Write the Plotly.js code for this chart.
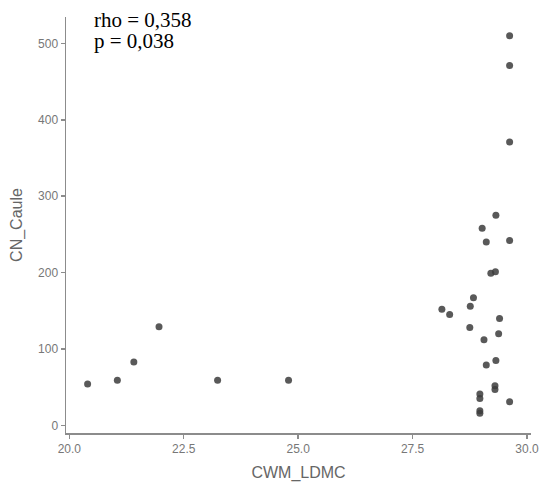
<!DOCTYPE html>
<html>
<head>
<meta charset="utf-8">
<script src="https://cdn.plot.ly/plotly-3.0.1.min.js"></script>
<style>html,body{margin:0;padding:0;background:#fff;}#chart{width:542px;height:483px;}</style>
</head>
<body>
<div id="chart"></div>
<script>
const cwmLDMC = [20.40, 21.05, 21.41, 21.96, 23.24, 24.79,
  29.62, 29.62, 29.62, 29.32, 29.02, 29.11, 29.62, 29.21, 29.31,
  28.83, 28.76, 28.14, 28.31, 29.40, 28.75, 29.38, 29.06, 29.32,
  29.11, 29.30, 29.30, 28.97, 28.97, 29.62, 28.97, 28.97];
const cnCaule = [54, 59, 83, 129, 59, 59,
  510, 471, 371, 275, 258, 240, 242, 199, 201,
  167, 156, 152, 145, 140, 128, 120, 112, 85,
  79, 52, 47, 41, 35, 31, 19, 16];
const xTickVals = [20.0, 22.5, 25.0, 27.5, 30.0];
const yTickVals = [0, 100, 200, 300, 400, 500];
const statLines = ["rho = 0,358", "p = 0,038"];

const axisCol = '#8c8c8c';
const tickFont = {family: 'Liberation Sans, Arial, sans-serif', size: 12, color: '#777'};
const titleFont = {family: 'Liberation Sans, Arial, sans-serif', size: 16, color: '#666'};

const trace = {
  x: cwmLDMC, y: cnCaule, type: 'scatter', mode: 'markers',
  marker: {size: 7, color: 'rgba(60,60,60,0.85)', line: {width: 0}},
  hoverinfo: 'skip'
};

const layout = {
  width: 542, height: 483,
  margin: {l: 66, r: 10.5, t: 17, b: 50},
  paper_bgcolor: '#fff', plot_bgcolor: '#fff',
  showlegend: false,
  xaxis: {
    range: [19.928, 30.087], tickvals: xTickVals, tickformat: '.1f',
    showgrid: false, zeroline: false, showline: true, linecolor: axisCol, linewidth: 1.5,
    ticks: 'outside', ticklen: 4, tickcolor: axisCol, tickwidth: 1.5,
    tickfont: tickFont,
    title: {text: 'CWM_LDMC', font: titleFont, standoff: 12}
  },
  yaxis: {
    range: [-10, 534.5], tickvals: yTickVals,
    showgrid: false, zeroline: false, showline: true, linecolor: axisCol, linewidth: 1.5,
    ticks: 'outside', ticklen: 4, tickcolor: axisCol, tickwidth: 1.5,
    tickfont: tickFont,
    title: {text: 'CN_Caule', font: titleFont, standoff: 11}
  },
  annotations: statLines.map((t, i) => ({
    text: t, xref: 'paper', yref: 'paper',
    x: 0.055, y: i === 0 ? 0.993 : 0.942, xanchor: 'left', yanchor: 'middle',
    showarrow: false,
    font: {family: 'Liberation Serif, Times New Roman, serif', size: 21, color: '#000'}
  }))
};

Plotly.newPlot('chart', [trace], layout, {displayModeBar: false, staticPlot: true});
</script>
</body>
</html>
